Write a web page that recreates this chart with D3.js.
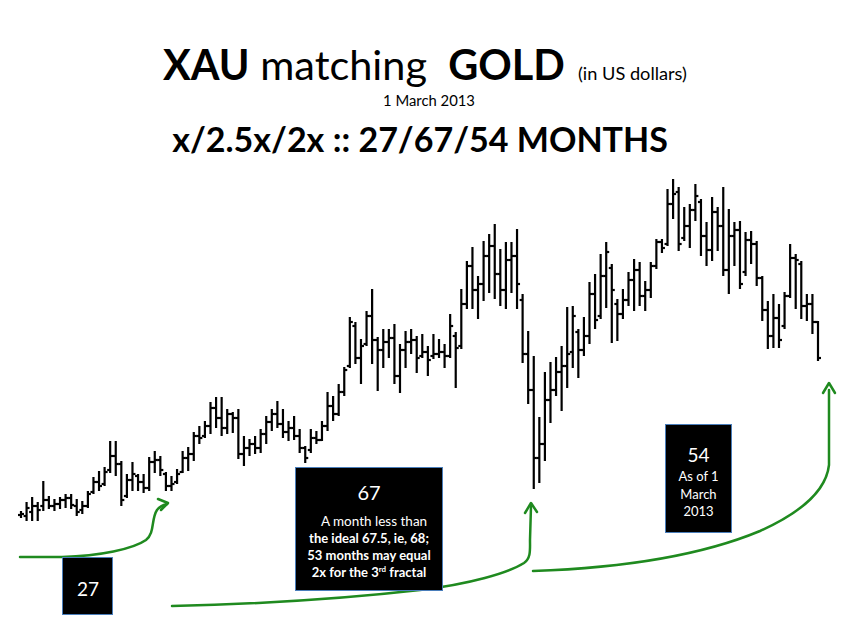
<!DOCTYPE html>
<html><head><meta charset="utf-8">
<script src="https://cdn.jsdelivr.net/npm/d3@7"></script>
<style>body{margin:0;background:#fff} svg{display:block}</style>
</head><body>
<svg id="c" width="850" height="638"></svg>
<script>
// Monthly OHLC values (XAU index, arbitrary linear units), Apr 2001 .. Mar 2013
const highs = [54,58.5,61,58.5,69,61.5,60,61,62.5,62.5,
60,59,64,71,74,76,89,89,79,72.5,
78.5,72.5,72.5,81,84,81.5,73.5,71.5,75,84,
86,93.5,96.5,99,108.5,111,111,105,103.5,105,
91.5,90,91.5,95,101.5,105,109,105,99,101.5,
95,86.5,95,94,99,113.5,111.5,117.5,126,151,
148.5,140,154,165,141,145,145,147.5,137.5,144,
145,141.5,142.5,136.5,142.5,140,137.5,152.5,143.5,165,
179,186,171.5,189,192.5,197.5,185,188.5,188.5,195,
162.5,144,131.5,101,123.5,128.5,131,136.5,156,156.5,
145,151,168.5,172.5,182.5,188.5,177.5,160,165,173.5,
180,178.5,169,178.5,190,190,215,220,216,206,
207.5,217.5,210,198.5,211,206,216,205,198.5,199,
193.5,194,189,171.5,159,162.5,157.5,163.5,187.5,182.5,
179,162.5,162.5,149];
const lows = [51.5,50,50,50,55,56,55,56,56.5,56,
52.5,53.5,56.5,63.5,65,67.5,74,72.5,57.5,61.5,
65,65,64,65,74,72.5,65,65,68.5,74,
75,80,88.5,91.5,93.5,96.5,92.5,93.5,94,81,
77.5,82.5,83.5,84,88.5,95,96.5,91.5,90,90.5,
84,79,84,88.5,90,95,100,102.5,112.5,126.5,
128.5,118.5,137.5,128.5,115,126.5,131.5,118.5,114,126.5,
133.5,124,131.5,122.5,131,131.5,126.5,131.5,116.5,136,
156,156,151,160,164,161,157.5,156,164,156,
129,108.5,66,69,80,99,112.5,105,116.5,126.5,
121.5,132.5,138.5,146,151,156.5,139,140,151,157.5,
155,157.5,155,161.5,176,184,187.5,201,185,190,
186.5,200,182.5,177.5,180,185,172.5,163.5,177.5,166,
172.5,178.5,167.5,150,136,136.5,136.5,146,161.5,156,
151,150,143.5,130];
const opens = [52.5,52,54,57,57,60,57,58,60,61,
57,55,57,64,69,68,75,82,78,62,
70,72,69,66,79,80,73,67,69,74,
81,83,92,92,97,106,101,96,103,101,
83,86,88,86,93,99,103,98,94,96,
92,86,85,91,90,97,107,103,114,127,
147,131,138,152,140,135,139,141,122,135,
139,140,132,134,132,133,134,132,142,137,
158,177,165,168,182,187,173,165,180,182,
160,133,115,81,88,110,115,124,127,134,
144,135,142,163,152,172,176,158,153,160,
170,175,162,165,177,189,188,208,214,191,
197,205,209,192,185,204,197,175,192,195,
174,190,188,171,155,142,151,147,162,181,
178,157,158,149];
const closes = [53,56,57,55,60,57,58,60,61,57.5,
54,57,63,69,67,74,82,78,60,70,
73,69,66,79,80,75,67,68,73,81,
83,92,91,97,106,101,96,103,101,83,
86,88,86,93,99,103,98,94,96,92,
86,81,91,90,97,107,103,114,125,149,
131,137,152,140,135,139,141,122,135,139,
140,131,134,130,133,134,132,147,136,158,
177,165,168,182,187,173,165,180,182,168,
133,115,81,88,110,115,124,127,133,152,
135,142,163,150,172,184,165,153,160,170,
175,162,165,177,189,186,208,213,188,197,
205,212,192,185,204,197,175,192,195,168,
190,188,171,155,142,151,140,162,181,180,
157,158,149,131];
const months = d3.utcMonth.range(new Date(Date.UTC(2001,3,1)), new Date(Date.UTC(2013,3,1)));

const data = months.map((m,i)=>({m, o:opens[i], h:highs[i], l:lows[i], c:closes[i]}));

const FONT = "Lato, 'Open Sans', sans-serif";
const svg = d3.select("#c");
svg.append("rect").attr("width",850).attr("height",638).attr("fill","#fff");

const x = d3.scalePoint().domain(data.map(d=>d.m)).range([21,818]);
const y = d3.scaleLinear().domain([50,222.5]).range([520,175]);

// Titles
function fit(sel, w){
  const cur = sel.node().getComputedTextLength();
  sel.attr("font-size", parseFloat(sel.attr("font-size"))*w/cur);
  return sel;
}
const title = svg.append("text").attr("x",163).attr("y",80).attr("font-family",FONT)
  .attr("font-size",40).attr("fill","#000").attr("xml:space","preserve");
title.append("tspan").attr("font-weight","bold").text("XAU");
title.append("tspan").text(" matching  ");
title.append("tspan").attr("font-weight","bold").text("GOLD");
fit(title,402);
fit(svg.append("text").attr("x",578).attr("y",80).attr("font-family",FONT).attr("font-size",14).text("(in US dollars)"),109);
fit(svg.append("text").attr("x",429).attr("y",106).attr("text-anchor","middle").attr("font-family",FONT).attr("font-size",14).text("1 March 2013"),92);
fit(svg.append("text").attr("x",420).attr("y",152).attr("text-anchor","middle").attr("font-family",FONT).attr("font-weight","bold").attr("font-size",36).text("x/2.5x/2x :: 27/67/54 MONTHS"),496);

// OHLC bars
const g = svg.append("g").attr("stroke","#000").attr("stroke-width",2.2);
const bars = g.selectAll("g.bar").data(data).join("g").attr("class","bar");
bars.append("line").attr("x1",d=>x(d.m)).attr("x2",d=>x(d.m)).attr("y1",d=>y(d.h)-1).attr("y2",d=>y(d.l)+1);
bars.append("line").attr("x1",d=>x(d.m)-3).attr("x2",d=>x(d.m)).attr("y1",d=>y(d.o)).attr("y2",d=>y(d.o));
bars.append("line").attr("x1",d=>x(d.m)).attr("x2",d=>x(d.m)+3).attr("y1",d=>y(d.c)).attr("y2",d=>y(d.c));

// Green arrows
const green = "#1f8a1f";
const ag = svg.append("g").attr("fill","none").attr("stroke",green).attr("stroke-width",2.5).attr("stroke-linecap","round").attr("stroke-linejoin","round");
ag.append("path").attr("d","M20,557 L62,557 C100,556 133,549 146,540 C155,533 151,519 157,510 C160,506 163,505 167,504");
ag.append("path").attr("d","M158,499 L168,503 L161,510");
ag.append("path").attr("d","M172,606 C260,604 350,598 420,590 C470,584 508,573 524,563 C531,558 530,550 530,540 L531,506");
ag.append("path").attr("d","M525,513 L531,503 L537,512");
ag.append("path").attr("d","M533,571 C620,568 700,556 760,531 C800,513 826,492 829,465 L829,390");
ag.append("path").attr("d","M823,393 L829,383 L835,393");

// Boxes
function box(x0,y0,w,h){
  svg.append("rect").attr("x",x0).attr("y",y0).attr("width",w).attr("height",h)
    .attr("fill","#000").attr("stroke","#4a7ebb").attr("stroke-width",1);
}
function wt(tx,ty,txt,fs,bold){
  return svg.append("text").attr("x",tx).attr("y",ty).attr("text-anchor","middle")
    .attr("font-family",FONT).attr("font-size",fs).attr("font-weight",bold?"bold":"normal")
    .attr("fill","#fff").text(txt);
}
box(62.5,557.5,50,57);
wt(88,596,"27",19,false);

box(295.5,467.5,147,123);
wt(369,500,"67",20,false);
wt(374,526,"A month less than",13.5,false);
wt(369,543,"the ideal 67.5, ie, 68;",13,true);
wt(369,560,"53 months may equal",13,true);
const last = wt(369,577,"",13,true);
last.append("tspan").text("2x for the 3");
last.append("tspan").attr("font-size",8).attr("dy",-5).text("rd");
last.append("tspan").attr("dy",5).text(" fractal");

box(665.5,424.5,66,108);
wt(698.5,462,"54",19,false);
wt(698.5,481,"As of 1",13,false);
wt(698.5,499,"March",13,false);
wt(698.5,516,"2013",13,false);
</script>
</body></html>
